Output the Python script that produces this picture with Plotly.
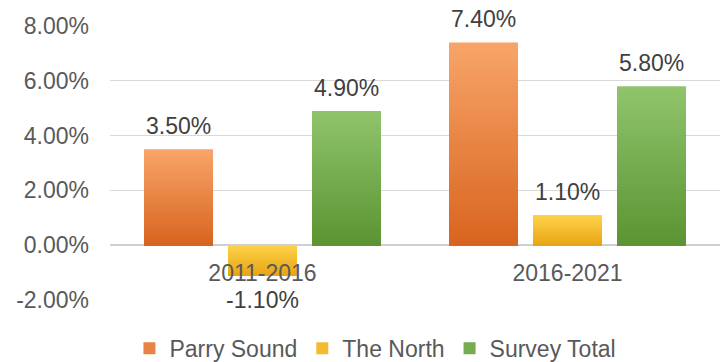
import plotly.graph_objects as go

# Population change by period
periods = ["2011-2016", "2016-2021"]
series_names = ["Parry Sound", "The North", "Survey Total"]
parry_sound = [3.5, 7.4]
the_north = [-1.1, 1.1]
survey_total = [4.9, 5.8]
y_ticks = [-2, 0, 2, 4, 6, 8]
y_tick_text = [f"{t:.2f}%" for t in y_ticks]

series_values = [parry_sound, the_north, survey_total]
# (top colour, bottom colour) of each series' vertical gradient
gradients = [
    ("#F8A469", "#D8651F"),
    ("#FFD24A", "#E8A616"),
    ("#90C46C", "#5C9433"),
]

STEPS = 60          # gradient bands per bar
PITCH = 0.2754      # slot per series within a category
BAR_W = 0.226       # bar width in category units
FONT = "Liberation Sans, Arial, sans-serif"


def hex_rgb(h):
    h = h.lstrip("#")
    return tuple(int(h[i:i + 2], 16) for i in (0, 2, 4))


def mix(c0, c1, t):
    a, b = hex_rgb(c0), hex_rgb(c1)
    return "rgb({},{},{})".format(*(round(a[i] + (b[i] - a[i]) * t) for i in range(3)))


fig = go.Figure()
annotations = []

for s, (name, vals) in enumerate(zip(series_names, series_values)):
    offset = -1.5 * PITCH + s * PITCH + (PITCH - BAR_W) / 2
    lo = [min(0, v) for v in vals]
    hi = [max(0, v) for v in vals]
    top_c, bot_c = gradients[s]
    # Full-height band first, then progressively shorter and darker bands
    # from the bottom edge up, so the bar fades light (top) to dark (bottom).
    for k in range(STEPS):
        frac = (STEPS - k) / STEPS
        fig.add_trace(go.Bar(
            x=periods,
            y=[(h - l) * frac for h, l in zip(hi, lo)],
            base=lo,
            offset=offset,
            width=BAR_W,
            marker=dict(color=mix(top_c, bot_c, k / (STEPS - 1)), line=dict(width=0)),
            name=name,
            legendgroup=name,
            showlegend=(k == STEPS // 2),
            hoverinfo="skip",
        ))
    # Value labels above positive bars, below negative ones
    for i, v in enumerate(vals):
        annotations.append(dict(
            x=i + offset + BAR_W / 2,
            y=v,
            xref="x",
            yref="y",
            text=f"{v:.2f}%",
            showarrow=False,
            xanchor="center",
            yanchor="bottom" if v >= 0 else "top",
            yshift=8 if v >= 0 else -10,
            font=dict(family=FONT, size=23, color="#404040"),
        ))

y_min, y_max = -2, 8

fig.update_layout(
    width=722,
    height=362,
    barmode="overlay",
    plot_bgcolor="white",
    paper_bgcolor="white",
    margin=dict(l=110, r=2, t=26, b=62, autoexpand=False),
    font=dict(family=FONT, size=23, color="#595959"),
    showlegend=True,
    annotations=annotations,
    legend=dict(
        orientation="h",
        xref="container",
        yref="container",
        x=0.52,
        xanchor="center",
        y=0.038,
        yanchor="middle",
        font=dict(family=FONT, size=23, color="#595959"),
        itemclick=False,
        tracegroupgap=0,
    ),
    xaxis=dict(
        type="category",
        range=[-0.5, 1.5],
        anchor="free",
        position=(0 - y_min) / (y_max - y_min),
        showline=False,
        showgrid=False,
        zeroline=False,
        ticks="",
        ticklabelstandoff=12,
        tickfont=dict(family=FONT, size=23, color="#595959"),
    ),
    yaxis=dict(
        range=[y_min, y_max],
        tickvals=y_ticks,
        ticktext=y_tick_text,
        showgrid=True,
        gridcolor="#D9D9D9",
        gridwidth=1.3,
        zeroline=True,
        zerolinecolor="#D0D0D0",
        zerolinewidth=2,
        showline=False,
        ticks="",
        ticklabelstandoff=20,
        tickfont=dict(family=FONT, size=23, color="#595959"),
    ),
)

fig.write_html("out.html")
